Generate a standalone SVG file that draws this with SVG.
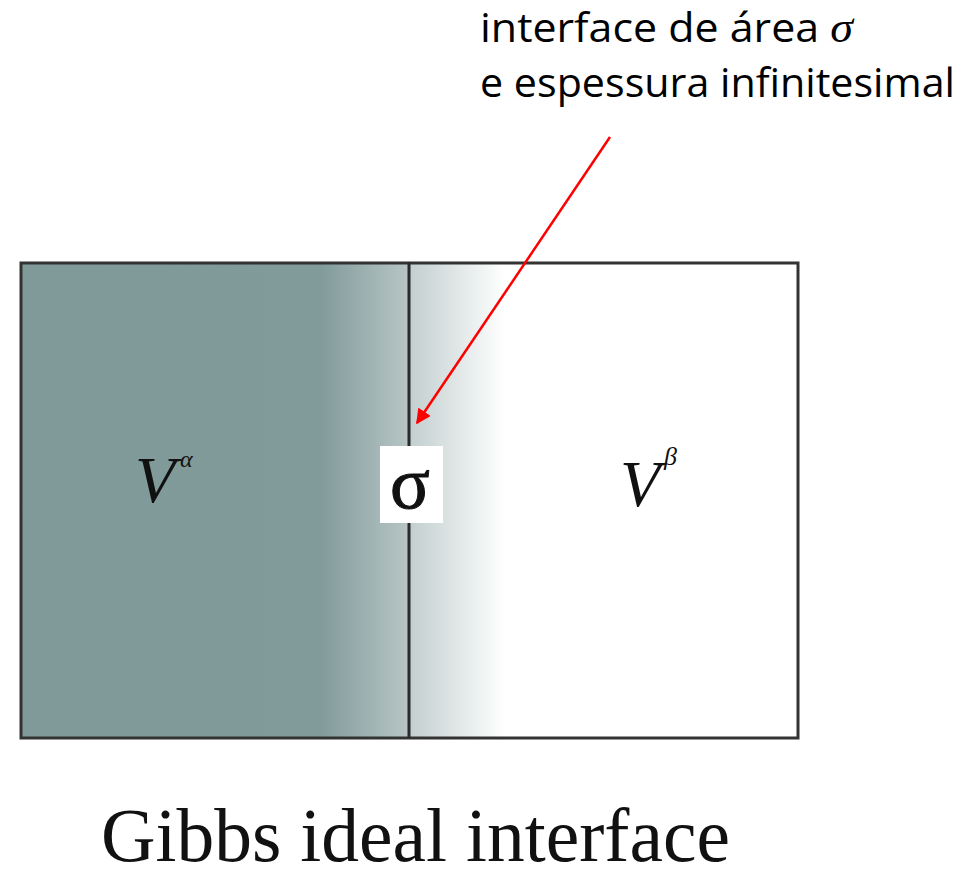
<svg xmlns="http://www.w3.org/2000/svg" width="973" height="869" viewBox="0 0 973 869">
<style>
.lbl{font-family:"Open Sans","Liberation Sans",sans-serif;font-size:41px;fill:#000}
.tm{font-family:"Liberation Serif",serif;fill:#111}
</style>
<defs>
<linearGradient id="gl" x1="20" y1="0" x2="409" y2="0" gradientUnits="userSpaceOnUse">
<stop offset="0" stop-color="#7f9a99"/>
<stop offset="0.77" stop-color="#809b9a"/>
<stop offset="1" stop-color="#b8c5c5"/>
</linearGradient>
<linearGradient id="gr" x1="409" y1="0" x2="505" y2="0" gradientUnits="userSpaceOnUse">
<stop offset="0" stop-color="#c2cece"/>
<stop offset="1" stop-color="#ffffff"/>
</linearGradient>
<marker id="ah" viewBox="0 0 10 10" refX="9" refY="5" markerWidth="6" markerHeight="6" orient="auto" markerUnits="strokeWidth">
<path d="M0,0 L10,5 L0,10 z" fill="#ff0000"/>
</marker>
</defs>
<g id="box">
<rect x="20" y="262" width="389" height="476" fill="url(#gl)"/>
<rect x="409" y="262" width="389" height="476" fill="url(#gr)"/>
<rect x="21" y="263" width="777" height="475" fill="none" stroke="#333" stroke-width="3"/>
<line x1="409" y1="262" x2="409" y2="738" stroke="#2b2b2b" stroke-width="3"/>
</g>
<g id="sigma">
<rect x="380" y="446" width="63" height="77" fill="#fff"/>
<text x="410" y="508" class="tm" font-size="74" text-anchor="middle" stroke="#111" stroke-width="1">σ</text>
</g>
<g id="valpha">
<text x="135" y="502" class="tm" font-size="66" font-style="italic">V</text>
<text x="180" y="467" class="tm" font-size="24" font-style="italic">α</text>
</g>
<g id="vbeta">
<text x="620" y="506" class="tm" font-size="66" font-style="italic">V</text>
<text x="664" y="465" class="tm" font-size="26" font-style="italic">β</text>
</g>
<g id="label">
<text x="480" y="42" class="lbl" textLength="373" lengthAdjust="spacingAndGlyphs">interface de área <tspan font-family="Liberation Serif,serif" font-style="italic" font-size="44">σ</tspan></text>
<text x="480" y="97" class="lbl" textLength="475" lengthAdjust="spacingAndGlyphs">e espessura infinitesimal</text>
</g>
<g id="caption">
<text x="101" y="861" class="tm" font-size="76" textLength="629" lengthAdjust="spacingAndGlyphs">Gibbs ideal interface</text>
</g>
<g id="connectors">
<line x1="610" y1="137" x2="417" y2="423" stroke="#ff0000" stroke-width="2.5" marker-end="url(#ah)"/>
</g>
</svg>
